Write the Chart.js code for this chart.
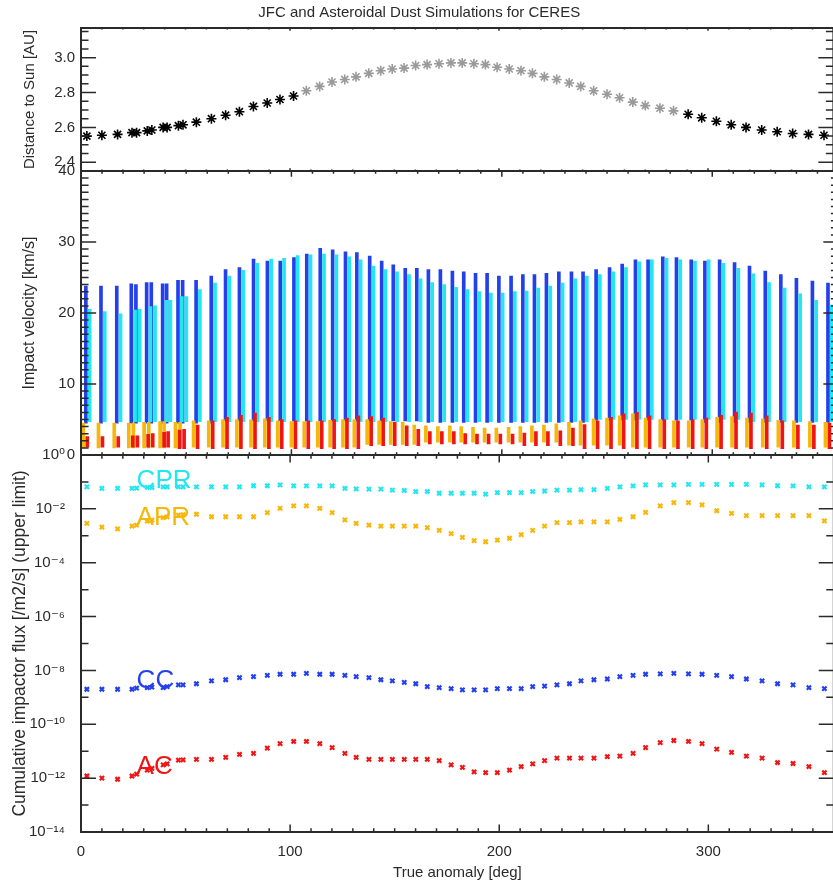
<!DOCTYPE html>
<html>
<head>
<meta charset="utf-8">
<title>JFC and Asteroidal Dust Simulations for CERES</title>
<script src="https://cdn.jsdelivr.net/npm/chart.js@4/dist/chart.umd.min.js"></script>
<style>
  html, body { margin: 0; padding: 0; background: #fff; overflow: hidden; }
  #wrap { position: relative; width: 833px; height: 888px; overflow: hidden; background: #fff; }
  #wrap canvas { position: absolute; left: 0; top: 0; }
</style>
</head>
<body>
<div id="wrap">
  <canvas id="distChart" width="840" height="888"></canvas>
  <canvas id="velChart" width="840" height="888"></canvas>
  <canvas id="fluxChart" width="840" height="888"></canvas>
</div>
<script>
// true anomaly of each simulation step [deg]
var anomaly = [2.8, 10.0, 17.5, 24.4, 26.6, 31.7, 33.9, 39.3, 41.2, 46.6, 48.8,
  55.2, 62.4, 69.2, 75.8, 82.5, 89.1, 95.2, 101.7, 107.8, 114.2,
  120.1, 126.2, 131.6, 137.7, 143.4, 148.9, 154.6, 160.1, 165.6, 171.3,
  177.0, 182.4, 188.0, 193.5, 199.1, 204.9, 210.5, 216.0, 221.7, 227.6,
  233.6, 239.1, 245.3, 251.7, 257.7, 264.0, 270.0, 277.0, 283.5, 290.5,
  297.0, 304.0, 311.1, 318.2, 325.7, 333.1, 340.5, 348.1, 355.5];

// heliocentric distance [AU]
var distance = [2.55, 2.555, 2.56, 2.57, 2.57, 2.58, 2.585, 2.60, 2.60, 2.61, 2.615,
  2.63, 2.65, 2.67, 2.69, 2.72, 2.74, 2.76, 2.78, 2.81, 2.835,
  2.86, 2.875, 2.89, 2.91, 2.925, 2.935, 2.94, 2.955, 2.96, 2.965,
  2.97, 2.97, 2.965, 2.96, 2.945, 2.935, 2.925, 2.91, 2.89, 2.875,
  2.855, 2.835, 2.81, 2.79, 2.77, 2.745, 2.725, 2.71, 2.695, 2.675,
  2.655, 2.635, 2.615, 2.60, 2.585, 2.575, 2.565, 2.56, 2.555];

// impact velocity ranges [km/s]
var ccVelMax = [23.8, 23.8, 23.8, 24.1, 24.0, 24.3, 24.3, 24.1, 24.1, 24.6, 24.6,
  24.6, 25.2, 26.1, 26.4, 27.6, 27.3, 27.3, 27.8, 28.3, 29.1,
  28.9, 28.6, 28.5, 28.0, 27.3, 26.8, 26.3, 26.3, 26.1, 26.1,
  25.9, 25.8, 25.6, 25.6, 25.2, 25.2, 25.4, 25.4, 25.6, 25.8,
  25.8, 25.8, 26.1, 26.4, 26.9, 27.5, 27.5, 27.9, 27.8, 27.5,
  27.3, 27.5, 27.1, 26.6, 25.9, 25.4, 24.9, 24.5, 24.2];
var ccVelMin = [4.5, 4.5, 4.5, 4.5, 4.5, 4.5, 4.5, 4.5, 4.5, 4.5, 4.5,
  4.5, 4.5, 4.8, 4.8, 4.8, 4.8, 4.8, 4.8, 4.8, 4.8,
  4.8, 4.8, 4.8, 4.8, 4.8, 4.8, 4.8, 4.8, 4.6, 4.6,
  4.6, 4.6, 4.6, 4.6, 4.6, 4.6, 4.6, 4.6, 4.6, 4.6,
  4.6, 4.6, 4.9, 4.9, 4.9, 4.9, 4.9, 4.9, 4.9, 4.9,
  4.6, 4.6, 4.6, 4.6, 4.6, 4.6, 4.6, 4.6, 4.6];
var cprVelMax = [20.5, 20.2, 19.9, 20.4, 20.5, 20.9, 21.0, 21.8, 21.8, 22.3, 22.3,
  23.3, 24.2, 25.2, 26.0, 27.0, 27.6, 27.7, 28.1, 28.2, 28.3,
  28.2, 27.9, 27.5, 26.6, 26.1, 25.8, 25.4, 24.8, 24.3, 24.0,
  23.6, 23.3, 23.0, 22.8, 22.8, 23.0, 23.1, 23.5, 23.8, 24.2,
  24.8, 25.2, 25.4, 25.8, 26.4, 27.2, 27.5, 27.7, 27.5, 27.3,
  27.5, 27.0, 26.3, 25.5, 24.3, 23.5, 22.7, 21.8, 21.1];
var cprVelMin = [4.7, 4.7, 4.7, 4.7, 4.7, 4.7, 4.7, 4.7, 4.7, 4.7, 4.7,
  4.7, 4.7, 4.7, 4.7, 4.7, 4.7, 4.7, 4.7, 4.7, 4.7,
  4.7, 4.7, 4.7, 4.7, 4.7, 4.7, 4.7, 4.7, 4.7, 4.7,
  4.7, 4.7, 4.7, 4.7, 4.7, 4.7, 4.7, 4.7, 4.7, 4.7,
  4.7, 4.7, 5.0, 5.0, 5.0, 5.0, 5.0, 5.0, 5.0, 5.0,
  5.0, 5.0, 5.0, 4.7, 4.7, 4.7, 4.7, 4.7, 4.7];
var aprVelMax = [4.5, 4.5, 4.5, 4.5, 4.5, 4.6, 4.6, 4.7, 4.7, 4.6, 4.6,
  4.8, 4.8, 5.0, 5.0, 4.95, 5.1, 4.8, 4.7, 4.7, 4.7,
  4.9, 5.0, 5.0, 5.0, 4.8, 4.7, 4.6, 4.2, 4.1, 4.0,
  4.1, 4.0, 3.9, 3.8, 3.8, 3.9, 4.0, 4.1, 4.2, 4.4,
  4.6, 4.8, 5.1, 5.2, 5.5, 5.8, 5.2, 5.0, 4.8, 4.8,
  5.0, 5.3, 5.4, 5.2, 5.1, 4.9, 4.8, 4.7, 4.6];
var aprVelMin = [1.0, 1.0, 1.0, 1.0, 1.0, 1.0, 1.0, 1.0, 1.0, 1.0, 1.0,
  1.1, 1.1, 1.1, 1.1, 1.1, 1.1, 1.1, 1.1, 1.1, 1.1,
  1.1, 1.1, 1.1, 1.5, 1.5, 1.5, 1.5, 1.5, 1.8, 1.8,
  1.8, 1.8, 1.8, 1.8, 1.8, 1.8, 1.8, 1.8, 1.8, 1.8,
  1.4, 1.4, 1.4, 1.4, 1.4, 1.1, 1.1, 1.1, 1.1, 1.1,
  1.1, 1.1, 1.1, 1.1, 1.1, 1.1, 1.1, 1.1, 1.1];
var acVelMax = [2.6, 2.6, 2.6, 2.7, 2.7, 2.9, 3.0, 3.2, 3.3, 3.5, 3.6,
  4.2, 4.8, 5.3, 5.6, 5.9, 5.3, 5.0, 4.8, 4.8, 4.8,
  5.0, 5.2, 5.5, 5.4, 5.2, 4.6, 4.1, 3.6, 3.3, 3.3,
  3.3, 3.0, 2.96, 2.96, 2.96, 2.96, 3.1, 3.3, 3.3, 3.4,
  3.8, 4.3, 4.8, 5.3, 5.8, 6.0, 5.5, 5.0, 4.8, 5.0,
  5.2, 5.6, 6.05, 5.9, 5.5, 4.8, 4.2, 4.2, 4.5];
var acVelMin = [1.1, 1.1, 1.1, 1.1, 1.1, 1.1, 1.1, 1.1, 1.1, 0.9, 0.9,
  0.9, 0.9, 0.9, 0.9, 0.9, 0.9, 0.9, 0.9, 0.9, 0.9,
  0.9, 0.9, 0.9, 1.3, 1.3, 1.3, 1.3, 1.3, 1.55, 1.55,
  1.55, 1.55, 1.55, 1.55, 1.55, 1.55, 1.3, 1.3, 1.3, 1.3,
  1.3, 0.9, 0.9, 0.9, 0.9, 0.9, 0.9, 0.9, 0.9, 0.9,
  0.9, 0.9, 0.9, 0.9, 0.9, 0.9, 0.9, 0.9, 0.9];

// cumulative impactor flux, upper limit [/m2/s]
var cprFlux = [6.6e-2, 5.8e-2, 5.8e-2, 5.8e-2, 5.9e-2, 6.3e-2, 6.2e-2, 6.6e-2, 6.6e-2, 6.6e-2, 6.6e-2,
  6.6e-2, 6.6e-2, 6.6e-2, 6.6e-2, 7.2e-2, 7.2e-2, 7.8e-2, 7.1e-2, 7.1e-2, 7.1e-2,
  7.1e-2, 5.8e-2, 5.5e-2, 5.4e-2, 5.4e-2, 5.0e-2, 4.8e-2, 4.4e-2, 4.4e-2, 3.8e-2,
  3.8e-2, 3.8e-2, 3.8e-2, 3.5e-2, 4.0e-2, 4.0e-2, 4.0e-2, 4.4e-2, 4.6e-2, 5.0e-2,
  5.0e-2, 5.2e-2, 5.2e-2, 5.8e-2, 6.6e-2, 7.1e-2, 7.8e-2, 7.8e-2, 7.8e-2, 8.1e-2,
  8.1e-2, 8.1e-2, 8.1e-2, 8.1e-2, 7.8e-2, 7.2e-2, 7.1e-2, 6.6e-2, 6.6e-2];
var aprFlux = [2.9e-3, 2.1e-3, 1.8e-3, 2.3e-3, 2.5e-3, 3.5e-3, 3.8e-3, 4.7e-3, 5.0e-3, 5.9e-3, 6.1e-3,
  6.3e-3, 5.1e-3, 5.1e-3, 5.1e-3, 5.1e-3, 7.2e-3, 1.05e-2, 1.3e-2, 1.3e-2, 1.05e-2,
  7.2e-3, 3.9e-3, 2.9e-3, 2.5e-3, 2.3e-3, 2.3e-3, 2.3e-3, 2.3e-3, 2.0e-3, 1.6e-3,
  1.2e-3, 8.7e-4, 6.6e-4, 6.0e-4, 6.9e-4, 8.1e-4, 1.1e-3, 1.6e-3, 2.3e-3, 3.1e-3,
  3.1e-3, 3.3e-3, 3.3e-3, 3.3e-3, 4.1e-3, 5.1e-3, 7.4e-3, 1.3e-2, 1.7e-2, 1.7e-2,
  1.4e-2, 8.5e-3, 6.8e-3, 5.6e-3, 5.6e-3, 5.6e-3, 5.6e-3, 5.6e-3, 3.6e-3];
var ccFlux = [2.0e-9, 2.0e-9, 2.0e-9, 2.0e-9, 2.2e-9, 2.3e-9, 2.4e-9, 2.3e-9, 2.5e-9, 2.9e-9, 2.9e-9,
  3.2e-9, 4.1e-9, 4.5e-9, 5.4e-9, 5.9e-9, 6.5e-9, 7.2e-9, 7.2e-9, 7.8e-9, 7.2e-9,
  7.2e-9, 6.5e-9, 5.9e-9, 5.4e-9, 4.5e-9, 4.1e-9, 3.6e-9, 3.2e-9, 2.5e-9, 2.3e-9,
  2.1e-9, 1.9e-9, 1.9e-9, 1.9e-9, 2.1e-9, 2.1e-9, 2.1e-9, 2.5e-9, 2.6e-9, 2.9e-9,
  3.2e-9, 4.1e-9, 4.5e-9, 4.8e-9, 5.9e-9, 6.5e-9, 7.2e-9, 7.4e-9, 7.8e-9, 7.4e-9,
  7.2e-9, 6.5e-9, 5.9e-9, 4.8e-9, 4.1e-9, 3.2e-9, 2.9e-9, 2.3e-9, 2.1e-9];
var acFlux = [1.2e-12, 1.0e-12, 9.1e-13, 1.2e-12, 1.4e-12, 2.0e-12, 2.3e-12, 3.1e-12, 3.4e-12, 4.7e-12, 4.8e-12,
  5.0e-12, 5.0e-12, 5.9e-12, 7.6e-12, 8.3e-12, 1.3e-11, 1.9e-11, 2.3e-11, 2.3e-11, 1.9e-11,
  1.35e-11, 8.3e-12, 5.9e-12, 5.0e-12, 5.0e-12, 5.0e-12, 5.0e-12, 5.0e-12, 5.0e-12, 4.5e-12,
  3.1e-12, 2.5e-12, 1.7e-12, 1.6e-12, 1.6e-12, 2.0e-12, 2.7e-12, 3.4e-12, 4.5e-12, 5.5e-12,
  5.5e-12, 5.5e-12, 5.5e-12, 6.3e-12, 6.6e-12, 8.3e-12, 1.35e-11, 2.1e-11, 2.5e-11, 2.3e-11,
  1.9e-11, 1.2e-11, 9.1e-12, 6.6e-12, 5.5e-12, 3.8e-12, 3.5e-12, 2.7e-12, 1.6e-12];

// axis tick labels
var anomalyTicks = [0, 100, 200, 300];
var distTicks = [2.4, 2.6, 2.8, 3.0];
var velTicks = [0, 10, 20, 30, 40];
var fluxTicks = [1, 1e-2, 1e-4, 1e-6, 1e-8, 1e-10, 1e-12, 1e-14];

var BLUE = '#2340ec', CYAN = '#22e6f0', ORANGE = '#f6b60a', RED = '#f01515';
var INK = '#2a2a2a';

Chart.defaults.font.family = "'Liberation Sans', 'DejaVu Sans', sans-serif";
Chart.defaults.font.size = 15;
Chart.defaults.color = INK;
Chart.defaults.animation = false;
Chart.defaults.plugins.legend.display = false;
Chart.defaults.plugins.tooltip.enabled = false;

// frame with inward major/minor ticks on all four sides
var boxFrame = {
  id: 'boxFrame',
  afterDatasetsDraw: function (chart, args, opts) {
    var ctx = chart.ctx, a = chart.chartArea;
    var xs = chart.scales.x, ys = chart.scales.y;
    var w = a.right - a.left, h = a.bottom - a.top;
    var xLen = 0.02 * h, yLen = 0.02 * w;
    ctx.save();
    ctx.strokeStyle = INK;
    ctx.lineWidth = 1.5;
    ctx.beginPath();
    var nx = Math.round((xs.max - xs.min) / 10);
    for (var k = 0; k <= nx; k++) {
      var v = xs.min + k * 10;
      var len = Math.round(v) % 100 === 0 ? xLen : xLen / 2;
      var px = xs.getPixelForValue(v);
      ctx.moveTo(px, a.bottom); ctx.lineTo(px, a.bottom - len);
      ctx.moveTo(px, a.top); ctx.lineTo(px, a.top + len);
    }
    var yt = [];
    if (opts.logY) {
      for (var e = Math.round(Math.log10(ys.min)); e <= Math.round(Math.log10(ys.max)); e++) {
        yt.push({ value: Math.pow(10, e), major: e % 2 === 0 });
      }
    } else {
      var k0 = Math.ceil(ys.min / opts.yMinor - 1e-6), k1 = Math.floor(ys.max / opts.yMinor + 1e-6);
      for (var j = k0; j <= k1; j++) {
        var val = j * opts.yMinor, r = val / opts.yMajor;
        yt.push({ value: val, major: Math.abs(r - Math.round(r)) < 1e-6 });
      }
    }
    yt.forEach(function (t) {
      var py = ys.getPixelForValue(t.value);
      var l = t.major ? yLen : yLen / 2;
      ctx.moveTo(a.left, py); ctx.lineTo(a.left + l, py);
      ctx.moveTo(a.right, py); ctx.lineTo(a.right - l, py);
    });
    ctx.stroke();
    ctx.lineWidth = 2;
    ctx.strokeRect(a.left, a.top, w, h);
    ctx.restore();
  }
};

// series names written next to their own curve
var seriesTags = {
  id: 'seriesTags',
  afterDatasetsDraw: function (chart, args, opts) {
    var ctx = chart.ctx;
    ctx.save();
    ctx.font = opts.font;
    ctx.textAlign = 'left';
    ctx.textBaseline = 'alphabetic';
    chart.data.datasets.forEach(function (ds) {
      var p = ds.data[opts.index];
      ctx.fillStyle = ds.borderColor;
      ctx.fillText(ds.label, chart.scales.x.getPixelForValue(p.x), chart.scales.y.getPixelForValue(p.y));
    });
    ctx.restore();
  }
};

function anomalyAxis(show) {
  var axis = {
    type: 'linear', min: 0, max: 360, offset: false, display: show,
    grid: { display: false, drawTicks: false },
    border: { display: false },
    afterBuildTicks: function (s) { s.ticks = anomalyTicks.map(function (v) { return { value: v }; }); },
    ticks: { padding: 11, maxRotation: 0, autoSkip: false },
    title: { display: show, text: 'True anomaly [deg]', padding: { top: 0, bottom: 6 } }
  };
  if (show) axis.afterFit = function (s) { s.height = 56; };
  return axis;
}

function leftAxis(extra) {
  var base = {
    grid: { display: false, drawTicks: false },
    border: { display: false },
    afterFit: function (s) { s.width = 81; }
  };
  return Object.assign(base, extra);
}

function points(ys) {
  return anomaly.map(function (a, i) { return { x: a, y: ys[i] }; });
}

function ranges(lo, hi, shift) {
  return anomaly.map(function (a, i) { return { x: a + shift, y: [lo[i], hi[i]] }; });
}

// distance to the Sun along the orbit
new Chart(document.getElementById('distChart'), {
  type: 'scatter',
  data: {
    datasets: [{
      data: points(distance),
      pointStyle: 'star',
      radius: 5,
      borderWidth: 1.6,
      borderColor: function (c) {
        var x = c.raw ? c.raw.x : 0;
        return x > 105 && x < 287 ? '#9a9a9a' : '#000';
      }
    }]
  },
  options: {
    responsive: false,
    devicePixelRatio: 1,
    layout: { padding: { left: 0, right: 1.5, top: 0, bottom: 717 } },
    plugins: {
      title: {
        display: true,
        text: 'JFC and Asteroidal Dust Simulations for CERES',
        font: { size: 15, weight: 'normal' },
        padding: { top: 4, bottom: 6 }
      },
      boxFrame: { yMinor: 0.05, yMajor: 0.2 }
    },
    scales: {
      x: anomalyAxis(false),
      y: leftAxis({
        min: 2.35, max: 3.17,
        afterBuildTicks: function (s) { s.ticks = distTicks.map(function (v) { return { value: v }; }); },
        ticks: { padding: 6, callback: function (v) { return v.toFixed(1); } },
        title: { display: true, text: 'Distance to Sun [AU]', padding: { top: 21, bottom: 0 } }
      })
    }
  },
  plugins: [boxFrame]
});

// impact velocity ranges for the four populations
new Chart(document.getElementById('velChart'), {
  type: 'bar',
  data: {
    datasets: [
      { label: 'AC', data: ranges(acVelMin, acVelMax, 0.2), backgroundColor: RED, order: 0 },
      { label: 'APR', data: ranges(aprVelMin, aprVelMax, -1.7), backgroundColor: ORANGE, order: 1 },
      { label: 'CPR', data: ranges(cprVelMin, cprVelMax, 1.3), backgroundColor: CYAN, order: 2 },
      { label: 'CC', data: ranges(ccVelMin, ccVelMax, -0.5), backgroundColor: BLUE, order: 3 }
    ]
  },
  options: {
    responsive: false,
    devicePixelRatio: 1,
    layout: { padding: { left: 0, right: 1.5, top: 171, bottom: 433 } },
    datasets: { bar: { barThickness: 3, grouped: false, borderWidth: 0, borderSkipped: false } },
    plugins: { boxFrame: { yMinor: 1, yMajor: 10 } },
    scales: {
      x: anomalyAxis(false),
      y: leftAxis({
        min: 0, max: 40,
        afterBuildTicks: function (s) { s.ticks = velTicks.map(function (v) { return { value: v }; }); },
        ticks: { padding: 6 },
        title: { display: true, text: 'Impact velocity [km/s]', font: { size: 16 }, padding: { top: 20, bottom: 0 } }
      })
    }
  },
  plugins: [boxFrame]
});

var SUP = { '0': '\u2070', '1': '\u00b9', '2': '\u00b2', '3': '\u00b3', '4': '\u2074', '5': '\u2075',
  '6': '\u2076', '7': '\u2077', '8': '\u2078', '9': '\u2079', '-': '\u207b' };

function powerLabel(v) {
  var e = String(Math.round(Math.log10(v)));
  return '10' + e.split('').map(function (ch) { return SUP[ch]; }).join('');
}

function fluxSet(label, ys, color) {
  return {
    label: label, data: points(ys),
    pointStyle: 'crossRot', radius: 3, borderWidth: 2.2,
    borderColor: color, backgroundColor: color
  };
}

// cumulative impactor flux for the four populations
new Chart(document.getElementById('fluxChart'), {
  type: 'scatter',
  data: {
    datasets: [
      fluxSet('CPR', cprFlux, CYAN),
      fluxSet('APR', aprFlux, ORANGE),
      fluxSet('CC', ccFlux, BLUE),
      fluxSet('AC', acFlux, RED)
    ]
  },
  options: {
    responsive: false,
    devicePixelRatio: 1,
    layout: { padding: { left: 0, right: 1.5, top: 455, bottom: 0 } },
    plugins: {
      boxFrame: { logY: true },
      seriesTags: { index: 4, font: "26px 'Liberation Sans', sans-serif" }
    },
    scales: {
      x: anomalyAxis(true),
      y: leftAxis({
        type: 'logarithmic',
        min: 1e-14, max: 1,
        afterBuildTicks: function (s) { s.ticks = fluxTicks.map(function (v) { return { value: v }; }); },
        ticks: { padding: 16, callback: powerLabel },
        title: {
          display: true, text: 'Cumulative impactor flux [/m2/s] (upper limit)',
          font: { size: 17.5 }, padding: { top: 10, bottom: 0 }
        }
      })
    }
  },
  plugins: [boxFrame, seriesTags]
});
</script>
</body>
</html>
